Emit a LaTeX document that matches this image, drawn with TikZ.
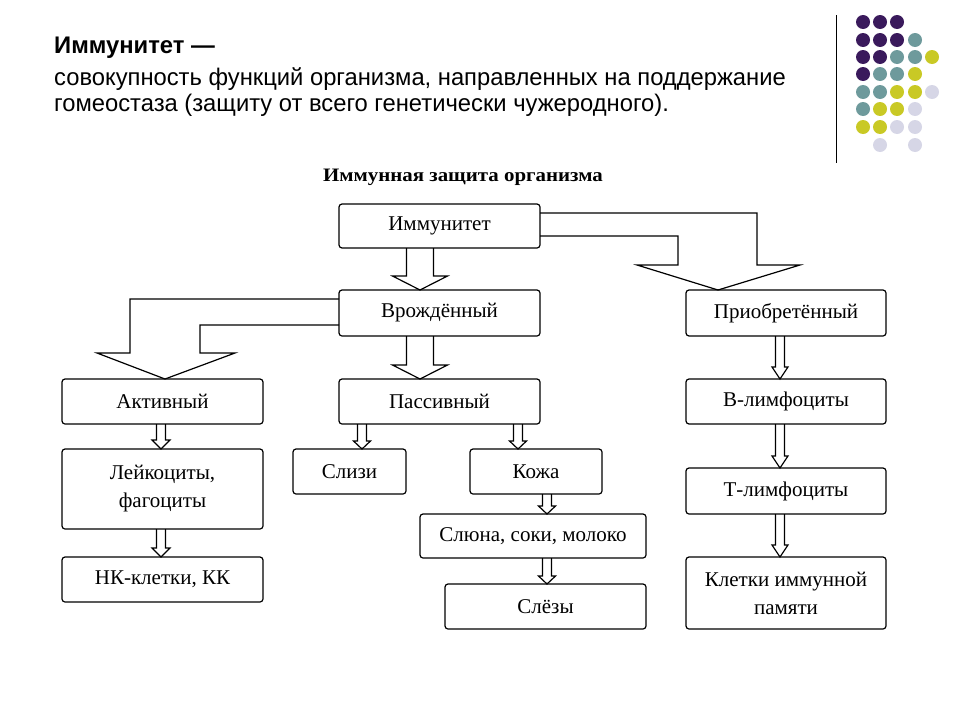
\documentclass[tikz,border=0pt]{standalone}
\usepackage{fontspec}
\setmainfont{Liberation Serif}
\newfontfamily\headfont{Liberation Sans}
\usetikzlibrary{calc}

\definecolor{dpurple}{HTML}{3A1A5C}
\definecolor{dteal}{HTML}{6E9A9C}
\definecolor{dyellow}{HTML}{C9C925}
\definecolor{dlilac}{HTML}{D6D6E6}

% hollow block arrow: from, to, x, shaft half, head half, head length
\newcommand{\hollowarrow}[6]{%
  \coordinate (s) at (#3,0 |- #1.south);
  \coordinate (t) at (#3,0 |- #2.north);
  \draw[blockarr] ($(s)+(-#4,0)$) -- ($(t)+(-#4,-#6)$) -- ++(#4-#5,0) -- (t)
    -- ++(#5,-#6) -- ++(#4-#5,0) -- ($(s)+(#4,0)$);
}

\begin{document}
\begin{tikzpicture}[x=1pt,y=-1pt,
			box/.style={draw, rounded corners=3pt, line width=1.2pt, inner sep=0pt, outer sep=0pt,
				minimum width=201pt, minimum height=45pt, align=center,
				font=\fontsize{21}{28}\selectfont},
			blockarr/.style={draw, line width=1.2pt, line join=miter},
			head/.style={anchor=west, inner sep=0pt, xscale=0.99, font=\headfont\fontsize{24}{28}\selectfont}
			]
			\useasboundingbox (0,0) rectangle (960,720);
			% heading
			\node[head, font=\headfont\bfseries\fontsize{24}{28}\selectfont] (ht) at (54,48) {Иммунитет —};
			\node[head] (h1) at (54,79) {совокупность функций организма, направленных на поддержание};
			\node[head] (h2) at (54,105) {гомеостаза (защиту от всего генетически чужеродного).};
			\draw[line width=1pt] (836,15) -- (836,163);
			\foreach \cx/\cy/\cc in {863/22/dpurple,880/22/dpurple,897/22/dpurple,
				863/40/dpurple,880/40/dpurple,897/40/dpurple,915/40/dteal,
				863/57/dpurple,880/57/dpurple,897/57/dteal,915/57/dteal,932/57/dyellow,
				863/74/dpurple,880/74/dteal,897/74/dteal,915/74/dyellow,
				863/92/dteal,880/92/dteal,897/92/dyellow,915/92/dyellow,932/92/dlilac,
				863/109/dteal,880/109/dyellow,897/109/dyellow,915/109/dlilac,
				863/127/dyellow,880/127/dyellow,897/127/dlilac,915/127/dlilac,
				880/145/dlilac,915/145/dlilac}
				\fill[\cc] (\cx,\cy) circle[radius=7];
			% diagram
			\node[font=\bfseries\fontsize{19}{22}\selectfont, xscale=1.1] (title) at (463,177) {Иммунная защита организма};
			\node[box, minimum height=44pt] (imm) at (439.5,226) {Иммунитет};
			\node[box, minimum height=46pt] (vr) at (439.5,313) {Врождённый};
			\node[box, minimum width=200pt, minimum height=46pt] (pri) at (786,313) {Приобретённый};
			\node[box] (akt) at (162.5,401.5) {Активный};
			\node[box] (pas) at (439.5,401.5) {Пассивный};
			\node[box, minimum height=80pt] (lei) at (162.5,489) {Лейкоциты,\\ фагоциты};
			\node[box] (nk) at (162.5,579.5) {НК-клетки, КК};
			\node[box, minimum width=113pt] (sliz) at (349.5,471.5) {Слизи};
			\node[box, minimum width=132pt] (koz) at (536,471.5) {Кожа};
			\node[box, minimum width=226pt, minimum height=44pt] (slu) at (533,536) {Слюна, соки, молоко};
			\node[box] (sle) at (545.5,606.5) {Слёзы};
			\node[box, minimum width=200pt] (bl) at (786,401.5) {В-лимфоциты};
			\node[box, minimum width=200pt, minimum height=46pt] (tl) at (786,491) {Т-лимфоциты};
			\node[box, minimum width=200pt, minimum height=72pt] (kl) at (786,593) {Клетки иммунной\\ памяти};
			% big arrows
			\hollowarrow{imm}{vr}{420}{13.5}{27.5}{14}
			\hollowarrow{vr}{pas}{420}{13.5}{27.5}{14}
			\coordinate (t1) at (718,0 |- pri.north);
			\draw[blockarr] (imm.east |- 0,213) -- (757,213) -- (757,265) -- (800,265) -- (t1)
				-- (637,265) -- (678,265) -- (678,236) -- (imm.east |- 0,236);
			\coordinate (t2) at (165,0 |- akt.north);
			\draw[blockarr] (vr.west |- 0,299) -- (130,299) -- (130,353) -- (97,353) -- (t2)
				-- (235,353) -- (200,353) -- (200,325) -- (vr.west |- 0,325);
			% small arrows
			\hollowarrow{akt}{lei}{161}{4.5}{9}{9}
			\hollowarrow{lei}{nk}{161}{4.5}{9}{9}
			\hollowarrow{pas}{sliz}{362}{4.5}{8.5}{8}
			\hollowarrow{pas}{koz}{518}{4.5}{8.5}{8}
			\hollowarrow{koz}{slu}{547}{4.5}{8.5}{8}
			\hollowarrow{slu}{sle}{547}{4.5}{8.5}{8}
			\hollowarrow{pri}{bl}{780}{4.5}{8}{12}
			\hollowarrow{bl}{tl}{780}{4.5}{8}{12}
			\hollowarrow{tl}{kl}{780}{4.5}{8}{12}
\end{tikzpicture}
\end{document}
